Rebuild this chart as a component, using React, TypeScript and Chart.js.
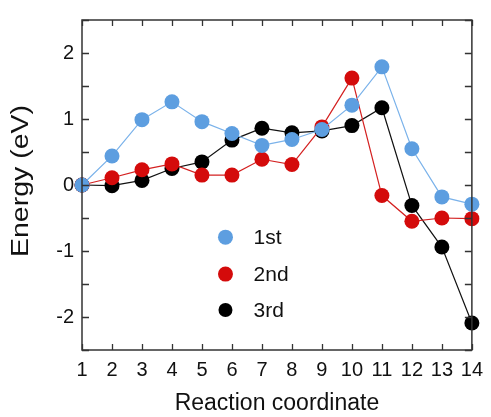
import React, { useEffect, useRef } from "react";
import { Chart, registerables } from "chart.js";

Chart.register(...registerables);

const coords = [1, 2, 3, 4, 5, 6, 7, 8, 9, 10, 11, 12, 13, 14];
const first = [0, 0.44, 0.99, 1.26, 0.96, 0.78, 0.6, 0.69, 0.84, 1.21, 1.79, 0.55, -0.18, -0.29];
const second = [0, 0.11, 0.23, 0.32, 0.15, 0.15, 0.39, 0.31, 0.88, 1.62, -0.16, -0.55, -0.5, -0.51];
const third = [0, -0.01, 0.07, 0.25, 0.35, 0.68, 0.86, 0.79, 0.82, 0.9, 1.17, -0.31, -0.94, -2.09];
const seriesNames = ["1st", "2nd", "3rd"];
const pointColors = ["#5d9ee0", "#d40b0b", "#000000"];
const lineColors = ["#7ab2ea", "#d42020", "#111111"];
const yTickLabels = [-2, -1, 0, 1, 2];
const yTitle = "Energy (eV)";
const xTitle = "Reaction coordinate";

const FONT = "'Liberation Sans', Arial, sans-serif";

const framePlugin = {
  id: "frameTicks",
  afterDatasetsDraw(chart: any) {
    const { ctx, chartArea, scales } = chart;
    const { left, right, top, bottom } = chartArea;
    ctx.save();
    ctx.strokeStyle = "#333";
    ctx.lineWidth = 1.5;
    ctx.strokeRect(left, top, right - left, bottom - top);
    ctx.lineWidth = 1.3;
    const x = scales.x;
    for (let v = 1; v <= 14; v++) {
      const px = Math.round(x.getPixelForValue(v)) + 0.5;
      ctx.beginPath();
      ctx.moveTo(px, bottom);
      ctx.lineTo(px, bottom - 6);
      ctx.moveTo(px, top);
      ctx.lineTo(px, top + 6);
      ctx.stroke();
    }
    const y = scales.y;
    for (let v = -2.5; v <= 2.5; v += 0.5) {
      const py = Math.round(y.getPixelForValue(v)) + 0.5;
      ctx.beginPath();
      ctx.moveTo(left, py);
      ctx.lineTo(left + 7, py);
      ctx.moveTo(right, py);
      ctx.lineTo(right - 7, py);
      ctx.stroke();
    }
    // y-axis title (slightly widened like the reference)
    const cy = (top + bottom) / 2 - 4;
    ctx.save();
    ctx.translate(22, cy);
    ctx.rotate(-Math.PI / 2);
    ctx.font = `23px ${FONT}`;
    const tw = ctx.measureText(yTitle).width;
    ctx.scale(152 / tw, 1);
    ctx.fillStyle = "#111";
    ctx.textAlign = "center";
    ctx.textBaseline = "middle";
    ctx.fillText(yTitle, 0, 0);
    ctx.restore();
    ctx.restore();
  },
};

const legendPlugin = {
  id: "inlineLegend",
  afterDatasetsDraw(chart: any) {
    const { ctx, chartArea } = chart;
    const w = chartArea.right - chartArea.left;
    const h = chartArea.bottom - chartArea.top;
    const mx = chartArea.left + w * 0.368;
    const tx = chartArea.left + w * 0.44;
    const ys = [0.658, 0.77, 0.879];
    ctx.save();
    ctx.font = `21px ${FONT}`;
    ctx.textBaseline = "middle";
    ctx.textAlign = "left";
    seriesNames.forEach((name, i) => {
      const yy = chartArea.top + h * ys[i];
      ctx.beginPath();
      ctx.fillStyle = pointColors[i];
      ctx.arc(mx, yy, i === 2 ? 7 : 7.5, 0, Math.PI * 2);
      ctx.fill();
      ctx.fillStyle = "#111";
      ctx.fillText(name, tx, yy + 1);
    });
    ctx.restore();
  },
};

export default function App() {
  const ref = useRef<HTMLCanvasElement>(null);
  useEffect(() => {
    const series = [first, second, third];
    const chart = new Chart(ref.current as HTMLCanvasElement, {
      type: "line",
      data: {
        datasets: series.map((s, i) => ({
          label: seriesNames[i],
          data: s.map((v, j) => ({ x: coords[j], y: v })),
          borderColor: lineColors[i],
          backgroundColor: pointColors[i],
          pointBackgroundColor: pointColors[i],
          pointBorderWidth: 0,
          pointRadius: 7.5,
          borderWidth: 1.2,
          tension: 0,
          clip: false as any,
        })),
      },
      options: {
        animation: false,
        responsive: false,
        devicePixelRatio: 1,
        layout: { padding: { top: 11, right: 10, left: 0, bottom: 0 } },
        plugins: { legend: { display: false }, tooltip: { enabled: false } },
        scales: {
          x: {
            type: "linear",
            min: 1,
            max: 14,
            grid: { display: false, drawTicks: false },
            border: { display: false },
            ticks: {
              stepSize: 1,
              color: "#111",
              font: { family: FONT, size: 20 },
              padding: 8,
              maxRotation: 0,
              autoSkip: false,
            },
            title: {
              display: true,
              text: xTitle,
              color: "#111",
              font: { family: FONT, size: 23 },
              padding: { top: 10, bottom: 0 },
            },
            afterFit(scale: any) {
              scale.height = 67;
            },
          },
          y: {
            type: "linear",
            min: -2.5,
            max: 2.5,
            grid: { display: false, drawTicks: false },
            border: { display: false },
            ticks: {
              stepSize: 0.5,
              color: "#111",
              font: { family: FONT, size: 20 },
              padding: 8,
              autoSkip: false,
              callback: (v: any) => (yTickLabels.includes(Number(v)) ? String(v) : ""),
            },
            title: { display: false },
            afterFit(scale: any) {
              scale.width = 82;
            },
          },
        },
      },
      plugins: [framePlugin, legendPlugin],
    });
    return () => chart.destroy();
  }, []);
  return (
    <div style={{ position: "fixed", left: 0, top: 0, width: 491, height: 417, background: "#fff" }}>
      <canvas ref={ref} width={491} height={417} style={{ width: 491, height: 417, display: "block" }} />
    </div>
  );
}
